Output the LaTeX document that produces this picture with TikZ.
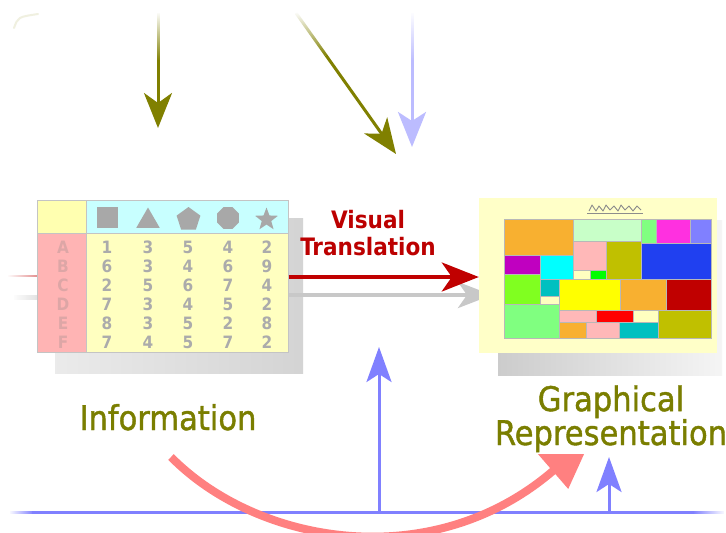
\documentclass[tikz,border=0pt]{standalone}
\usepackage{fontspec}
\setmainfont{DejaVu Sans Condensed}
\newfontfamily\labelfont{DejaVu Sans Condensed}[FakeBold=1.2]
\usetikzlibrary{arrows.meta,shapes.geometric,fadings}

\definecolor{olivec}{HTML}{808000}
\definecolor{olivetext}{HTML}{7A7E00}
\definecolor{vtred}{HTML}{BC0000}
\definecolor{redarrow}{HTML}{C00000}
\definecolor{bluea}{HTML}{8080FF}
\definecolor{bluelight}{HTML}{BCBCFF}
\definecolor{pinka}{HTML}{FF8080}
\definecolor{grayarrow}{HTML}{C8C8C8}
\definecolor{tyellow}{HTML}{FFFFC0}
\definecolor{tcorner}{HTML}{FFFFB0}
\definecolor{tcyan}{HTML}{C8FFFF}
\definecolor{tpink}{HTML}{FFB4B4}
\definecolor{tedge}{HTML}{C4C4C4}
\definecolor{numgray}{HTML}{ABABAB}
\definecolor{labpink}{HTML}{DDA6A6}
\definecolor{shapegray}{HTML}{A8A8A8}
\definecolor{panelyellow}{HTML}{FFFFC8}
\definecolor{tileedge}{HTML}{B8B8B8}
\definecolor{cOrange}{HTML}{F8B030}
\definecolor{cPaleGreen}{HTML}{C8FFC8}
\definecolor{cGreen}{HTML}{80FF80}
\definecolor{cMagenta}{HTML}{FF30E0}
\definecolor{cPeri}{HTML}{8080FF}
\definecolor{cPink}{HTML}{FFB8B8}
\definecolor{cOlive}{HTML}{C0C000}
\definecolor{cBlue}{HTML}{2040F0}
\definecolor{cPurple}{HTML}{C000C0}
\definecolor{cCyan}{HTML}{00FFFF}
\definecolor{cPaleYellow}{HTML}{FFFFC0}
\definecolor{cBrightGreen}{HTML}{00FF00}
\definecolor{cLime}{HTML}{80FF20}
\definecolor{cTeal}{HTML}{00C0C0}
\definecolor{cYellow}{HTML}{FFFF00}
\definecolor{cDarkRed}{HTML}{C00000}
\definecolor{cRed}{HTML}{FF0000}

% fadings: transparent at the named side
\tikzfading[name=fadetop, top color=transparent!100, bottom color=transparent!0]
\tikzfading[name=fadeleft, left color=transparent!100, right color=transparent!0]
\tikzfading[name=faderight, left color=transparent!0, right color=transparent!100]

\tikzset{
  olivearrow/.style={draw=olivec, line width=3pt, -{Stealth[length=35pt,width=28pt,inset=10pt]}},
  olivefade/.style={draw=olivec, line width=3pt, path fading=fadetop},
  bluearrow/.style={draw=bluea, line width=3pt, -{Stealth[length=35pt,width=25pt,inset=8pt]}},
  palebluearrow/.style={draw=bluelight, line width=3pt, -{Stealth[length=35pt,width=28pt,inset=9pt]}},
  palebluefade/.style={draw=bluelight, line width=3pt, path fading=fadetop},
  redarrowstyle/.style={draw=redarrow, line width=4pt, -{Stealth[length=37pt,width=29pt,inset=10pt]}},
  grayarrowstyle/.style={draw=grayarrow, line width=4pt, -{Stealth[length=34pt,width=26pt,inset=9pt]}},
  pinkarrow/.style={draw=pinka, line width=8pt, -{Triangle[length=52pt,width=45pt]}},
  baseline/.style={draw=bluea, line width=3pt},
  cellnum/.style={text=numgray, inner sep=0pt, font=\bfseries\fontsize{17}{17}\selectfont},
  rowlab/.style={text=labpink, inner sep=0pt, font=\bfseries\fontsize{17}{17}\selectfont},
  hshape/.style={fill=shapegray, draw=none, inner sep=0pt},
  tile/.style={draw=tileedge, line width=0.6pt},
  glabel/.style={text=olivetext, align=center, inner sep=2pt,
    font=\labelfont\fontsize{34}{32}\selectfont},
  vtlabel/.style={text=vtred, align=center, inner sep=1pt,
    font=\bfseries\fontsize{24}{27}\selectfont},
}

\begin{document}
\begin{tikzpicture}[x=1pt,y=-1pt]
\useasboundingbox[fill=white] (0,0) rectangle (726,533);

% faint remnant stroke in the upper left corner
\draw[olivec!12, line width=2pt, line cap=round] (14,28) .. controls (18,17) .. (38,14);

% incoming arrows at the top
\coordinate (o1a) at (158,13);
\coordinate (o1b) at (158,60);
\coordinate (o1t) at (158,128);
\draw[olivefade] (o1a) -- (o1b);
\draw[olivearrow] (o1b) -- (o1t);

\coordinate (o2a) at (296,13);
\coordinate (o2b) at (326,55.3);
\coordinate (o2t) at (396,154);
\draw[olivefade] (o2a) -- (o2b);
\draw[olivearrow] (o2b) -- (o2t);

\coordinate (b1a) at (412,13);
\coordinate (b1b) at (412,60);
\coordinate (b1t) at (412,147);
\draw[palebluefade] (b1a) -- (b1b);
\draw[palebluearrow] (b1b) -- (b1t);

% drop shadows
\shade[left color=black!8, right color=black!17] (55,218) rectangle (303,373);
\shade[left color=black!20, right color=black!4] (498,220) rectangle (722,375);

% faded arrow entering the table from the left
\coordinate (fa) at (8,276);
\coordinate (fb) at (37,276);
\draw[redarrow!45, line width=2pt, path fading=fadeleft] (fa) -- (fb);
\draw[black!12, line width=5pt, path fading=fadeleft] (14,297) -- (37,297);

% ---------- data table ----------
\fill[tyellow] (37,200) rectangle (288,352);
\fill[tcorner] (37,200) rectangle (86,233);
\fill[tcyan] (86,200) rectangle (288,233);
\fill[tpink] (37,233) rectangle (86,352);
\draw[tedge, line width=1pt] (37,233) -- (288,233) (86,200) -- (86,352);
\node[draw=tedge, line width=1pt, minimum width=251pt, minimum height=152pt,
      inner sep=0pt] (table) at (162.5,276) {};

% column header symbols
\node[hshape, rectangle, minimum size=21pt] (hsq) at (107.5,217.5) {};
\node[hshape, regular polygon, regular polygon sides=3, minimum size=27pt] (htri) at (148,221) {};
\node[hshape, regular polygon, regular polygon sides=5, minimum size=25pt] (hpent) at (188.5,219.5) {};
\node[hshape, regular polygon, regular polygon sides=8, minimum size=23.5pt] (hoct) at (228,218) {};
\node[hshape, star, star points=5, star point ratio=2.4, minimum size=24pt] (hstar) at (266.5,219.5) {};

% rows of values
\foreach \lab/\va/\vb/\vc/\vd/\ve [count=\i from 0] in
  {A/1/3/5/4/2, B/6/3/4/6/9, C/2/5/6/7/4, D/7/3/4/5/2, E/8/3/5/2/8, F/7/4/5/7/2} {
  \node[rowlab] (row-\lab) at (63,{247+19*\i}) {\lab};
  \foreach \v/\cx [count=\j] in {\va/107,\vb/148,\vc/188,\vd/228,\ve/267}
    \node[cellnum] (cell-\lab-\j) at (\cx,{247+19*\i}) {\v};
}

% ---------- translation arrows ----------
\coordinate (rlev) at (0,277);
\coordinate (glev) at (0,295);
\coordinate (gtip) at (492,295);
\draw[grayarrowstyle] (table.east |- glev) -- (gtip);

% ---------- graphical panel ----------
\node[fill=panelyellow, minimum width=238pt, minimum height=155pt, inner sep=0pt]
  (panel) at (598,275.5) {};
\draw[redarrowstyle] (table.east |- rlev) -- (panel.west |- rlev);

% treemap tiles
\foreach \xa/\ya/\xb/\yb/\col in {
  504/219/573/255/cOrange, 573/219/641/241/cPaleGreen, 641/219/656/243/cGreen,
  656/219/690/243/cMagenta, 690/219/711/243/cPeri,
  573/241/606/270/cPink, 606/241/641/279/cOlive, 641/243/711/279/cBlue,
  504/255/540/274/cPurple, 540/255/573/279/cCyan,
  573/270/590/279/cPaleYellow, 590/270/606/279/cBrightGreen,
  504/274/540/304/cLime, 540/279/559/296/cTeal, 540/296/559/304/cPaleYellow,
  559/279/620/310/cYellow, 620/279/666/310/cOrange, 666/279/711/310/cDarkRed,
  504/304/559/338/cGreen,
  559/310/596/322/cPink, 596/310/633/322/cRed, 633/310/658/322/cPaleYellow,
  658/310/711/338/cOlive,
  559/322/586/338/cOrange, 586/322/619/338/cPink, 619/322/658/338/cTeal}
  \filldraw[tile, fill=\col] (\xa,\ya) rectangle (\xb,\yb);
\draw[tileedge, line width=0.8pt] (504,219) rectangle (711,338);

% little heading scribble of the chart
\draw[black!45, line width=0.9pt, line join=round]
  (589,211) -- (592,205) -- (596,211) -- (599,206) -- (603,211) -- (606,205)
  -- (610,210) -- (614,206) -- (618,211) -- (621,205) -- (625,210)
  -- (629,206) -- (633,211) -- (637,206) -- (641,210);
\draw[black!45, line width=1pt] (587,213.5) -- (643,213.5);

% ---------- bottom feedback ----------
\coordinate (bl0) at (10,512);
\coordinate (bl1) at (32,512);
\coordinate (bl2) at (694,512);
\coordinate (bl3) at (724,512);
\draw[baseline, path fading=fadeleft] (bl0) -- (bl1);
\draw[baseline] (bl1) -- (bl2);
\draw[baseline, path fading=faderight] (bl2) -- (bl3);

\coordinate (bm0) at (379,512);
\coordinate (bmt) at (379,347);
\draw[bluearrow] (bm0) -- (bmt);
\coordinate (bs0) at (609,512);
\coordinate (bst) at (609,457);
\draw[bluearrow] (bs0) -- (bst);

\coordinate (pk0) at (171,457);
\coordinate (pkt) at (592,437);
\draw[pinkarrow] (pk0) .. controls (258,545) and (433,575) .. (pkt);

% ---------- labels (base anchor sits on the last line) ----------
\node[vtlabel, anchor=base] (vt) at (368,255) {Visual\\Translation};
\node[glabel, anchor=base] (info) at (168,430) {Information};
\node[glabel, fill=white, anchor=base] (graph) at (611,445) {Graphical\\Representation};
\end{tikzpicture}
\end{document}
